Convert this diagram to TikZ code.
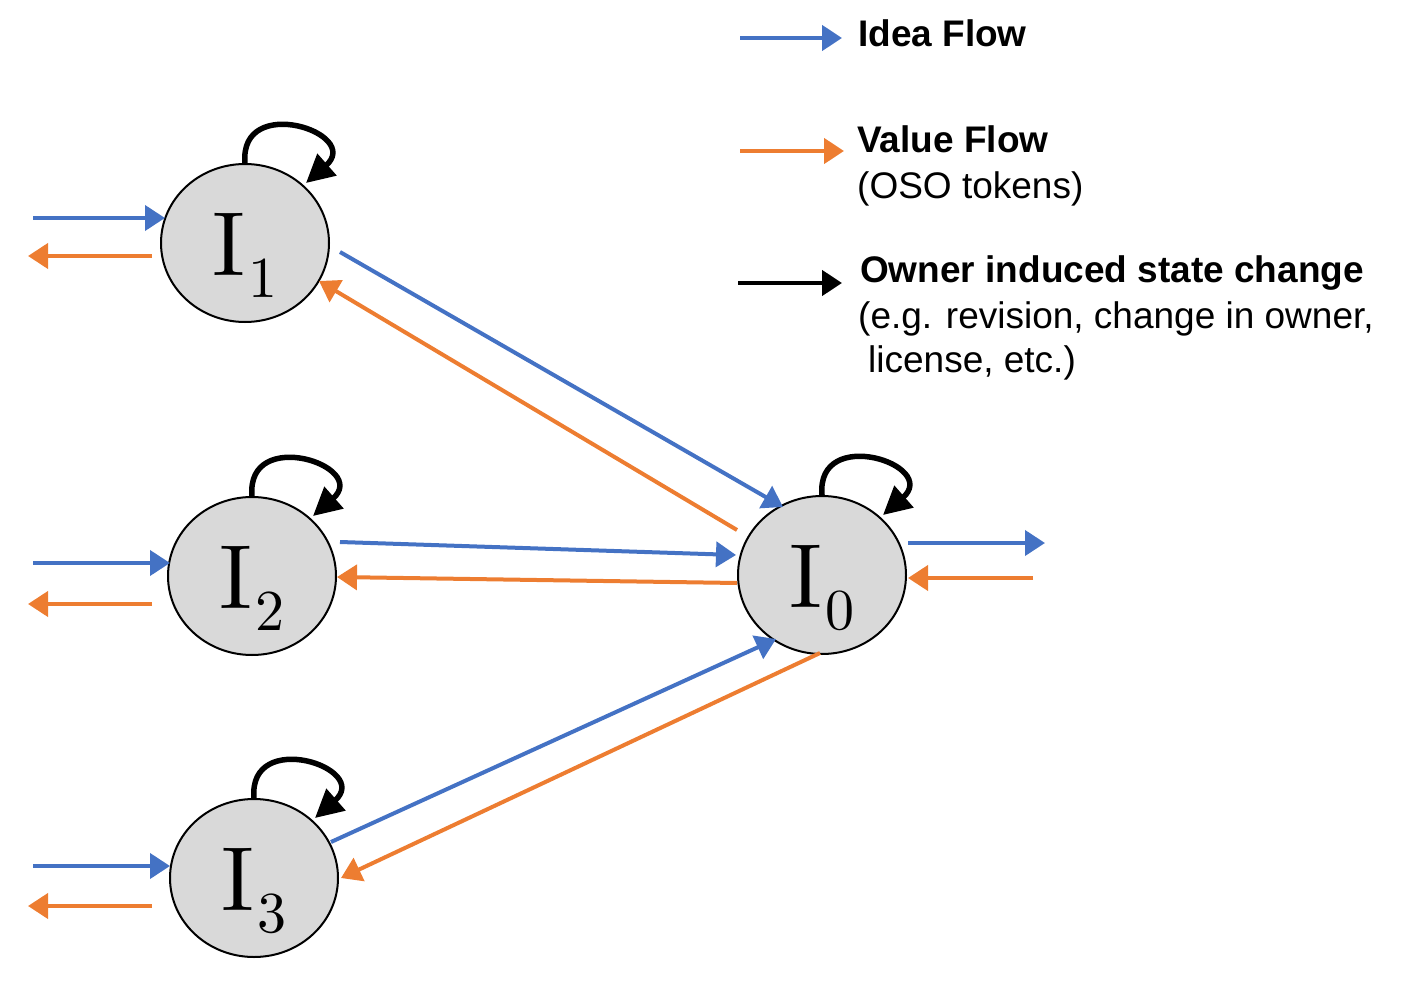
\documentclass[tikz,border=0pt]{standalone}
\usepackage{fontspec}
\usetikzlibrary{arrows.meta,shapes.geometric}
\newfontfamily\legendfont{Liberation Sans}
\newfontfamily\nodefont{lmroman10-regular}[Extension=.otf]
\definecolor{ideablue}{HTML}{4472C4}
\definecolor{valueorange}{HTML}{ED7D31}
\definecolor{nodegray}{HTML}{D9D9D9}
\tikzset{
  inode/.style={ellipse, draw=black, line width=2pt, fill=nodegray, minimum width=168pt, minimum height=158pt, inner sep=0pt, text height=64pt, text depth=0pt, font=\nodefont\fontsize{91}{91}\selectfont},
  idea/.style={draw=ideablue, line width=4pt, -{Triangle[length=20pt,width=25pt]}},
  value/.style={draw=valueorange, line width=4pt, -{Triangle[length=20pt,width=25pt]}},
  selfloop/.style={draw=black, line width=5.5pt, -{Triangle[length=28pt,width=28pt]}},
  legendarrow/.style={line width=4.5pt, -{Triangle[length=20pt,width=25pt]}},
  legbold/.style={anchor=base west, inner sep=0pt, font=\legendfont\bfseries\fontsize{37}{44}\selectfont},
  legreg/.style={anchor=base west, inner sep=0pt, font=\legendfont\fontsize{37}{44}\selectfont},
}
\newcommand{\lbl}[1]{I\kern3pt\raisebox{-22pt}{\fontsize{58}{58}\selectfont #1}}
\begin{document}
\begin{tikzpicture}[x=1pt,y=-1pt]
\useasboundingbox (0,0) rectangle (1408,987);

% nodes
\node[inode] (I1) at (245,243) {\lbl{1}};
\node[inode] (I2) at (252,576) {\lbl{2}};
\node[inode] (I3) at (254,878) {\lbl{3}};
\node[inode] (I0) at (822,575) {\lbl{0}};

% self loops
\foreach \n in {I1,I2,I3,I0}{
  \draw[selfloop] (\n.north) .. controls ([shift={(-6,-150)}]\n.center) and ([shift={(118,-110)}]\n.center) .. ([shift={(61,-60)}]\n.center);
}

% edges between nodes
\draw[idea]  ([shift={(95,9)}]I1.center) -- ([shift={(-39,-68)}]I0.center);
\draw[value] ([shift={(-85,-45)}]I0.center) -- ([shift={(74,38)}]I1.center);
\draw[idea]  ([shift={(88,-34)}]I2.center) -- ([shift={(-86,-20)}]I0.center);
\draw[value] ([shift={(-85,8)}]I0.center) -- ([shift={(85,1)}]I2.center);
\draw[idea]  ([shift={(77,-36)}]I3.center) -- ([shift={(-46,64)}]I0.center);
\draw[value] ([shift={(-2,78)}]I0.center) -- ([shift={(87,0)}]I3.center);

% side stubs
\draw[idea]  ([shift={(-212,-25)}]I1.center) -- ([shift={(-80,-25)}]I1.center);
\draw[value] ([shift={(-93,13)}]I1.center) -- ([shift={(-217,13)}]I1.center);
\draw[idea]  ([shift={(-219,-13)}]I2.center) -- ([shift={(-82,-13)}]I2.center);
\draw[value] ([shift={(-100,28)}]I2.center) -- ([shift={(-224,28)}]I2.center);
\draw[idea]  ([shift={(-221,-12)}]I3.center) -- ([shift={(-84,-12)}]I3.center);
\draw[value] ([shift={(-102,28)}]I3.center) -- ([shift={(-226,28)}]I3.center);
\draw[idea]  ([shift={(86,-32)}]I0.center) -- ([shift={(223,-32)}]I0.center);
\draw[value] ([shift={(211,3)}]I0.center) -- ([shift={(86,3)}]I0.center);

% legend
\coordinate (la1) at (740,38);  \coordinate (lb1) at (842,38);
\coordinate (la2) at (740,151); \coordinate (lb2) at (844,151);
\coordinate (la3) at (738,283); \coordinate (lb3) at (842,283);
\draw[legendarrow, draw=ideablue] (la1) -- (lb1);
\draw[legendarrow, draw=valueorange] (la2) -- (lb2);
\draw[legendarrow, draw=black] (la3) -- (lb3);
\node[legbold] (t1) at (858,47) {Idea Flow};
\node[legbold] (t2) at (857,153) {Value Flow};
\node[legreg]  (t3) at (857,199) {(OSO tokens)};
\node[legbold] (t4) at (860,282) {Owner induced state change};
\node[legreg]  (t5) at (858,328) {(e.g. revision, change in owner,};
\node[legreg]  (t6) at (868,372) {license, etc.)};
\end{tikzpicture}
\end{document}
